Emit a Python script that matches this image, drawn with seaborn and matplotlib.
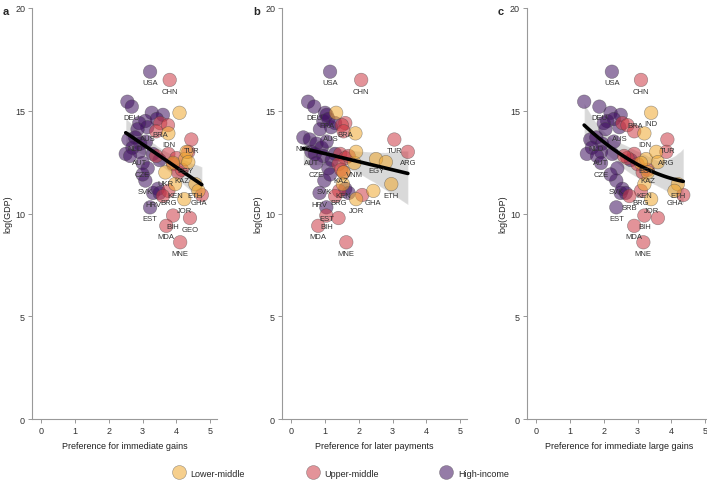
import numpy as np
import pandas as pd
import seaborn as sns
import matplotlib
matplotlib.use("Agg")
import matplotlib.pyplot as plt

# country data (approximate)
countries = ["USA", "GBR", "DEU", "JPN", "FRA", "ITA", "CAN", "AUS", "KOR", "ESP",
             "NLD", "CHE", "SWE", "BEL", "AUT", "NOR", "POL", "DNK", "CZE", "ISR",
             "PRT", "SVK", "HUN", "HRV", "LTU", "EST", "SVN", "CHL",
             "CHN", "BRA", "RUS", "MEX", "TUR", "ARG", "THA", "ZAF", "COL", "MYS",
             "PER", "KAZ", "BRG", "SRB", "BIH", "GEO", "MDA", "MNE", "AZE",
             "IND", "IDN", "EGY", "VNM", "PHL", "PAK", "UKR", "KEN", "ETH", "GHA", "JOR"]
income = (["High-income"] * 28 + ["Upper-middle"] * 19 + ["Lower-middle"] * 11)
log_gdp = [16.9, 15.44, 15.2, 14.9, 14.8, 14.5, 14.6, 14.2, 14.4, 14.1,
           13.7, 13.6, 13.4, 13.2, 13.0, 12.9, 13.5, 12.8, 12.46, 12.9,
           12.2, 11.6, 11.9, 11.0, 11.2, 10.3, 11.0, 12.6,
           16.5, 14.4, 14.3, 14.0, 13.6, 13.0, 12.9, 12.7, 12.4, 12.8,
           12.0, 12.13, 11.1, 10.85, 9.9, 9.78, 9.4, 8.6, 10.9,
           14.9, 13.9, 12.65, 12.46, 13.0, 12.5, 12.0, 11.43, 11.43, 11.1, 10.7]
pref_immediate = [3.22, 2.55, 2.68, 3.27, 3.6, 3.08, 3.42, 3.14, 2.9, 2.85,
                  2.78, 2.58, 2.93, 2.7, 2.9, 2.5, 3.1, 2.63, 3.0, 3.3,
                  3.15, 3.08, 3.0, 3.31, 3.45, 3.22, 3.5, 3.5,
                  3.8, 3.52, 3.75, 3.4, 4.44, 4.35, 3.76, 4.0, 3.9, 3.4,
                  4.05, 4.16, 3.76, 3.6, 3.9, 4.4, 3.7, 4.11, 4.75,
                  4.09, 3.76, 4.26, 3.9, 4.3, 4.35, 3.67, 3.96, 4.56, 4.65, 4.23]
pref_later = [1.15, 0.5, 0.68, 1.0, 1.05, 0.95, 1.1, 1.18, 1.3, 0.85,
              0.36, 0.55, 0.75, 0.9, 0.6, 0.7, 1.05, 0.95, 0.74, 1.3,
              1.1, 0.98, 1.15, 0.84, 1.6, 1.04, 1.7, 1.2,
              2.07, 1.6, 1.5, 1.55, 3.05, 3.45, 1.45, 1.6, 1.4, 1.7,
              1.55, 1.48, 1.42, 1.3, 1.04, 1.4, 0.8, 1.63, 2.1,
              1.33, 1.9, 2.51, 1.87, 1.92, 2.8, 1.55, 1.53, 2.96, 2.43, 1.92]
pref_large = [2.24, 1.42, 1.87, 2.2, 2.5, 2.1, 2.3, 2.46, 2.0, 2.05,
              1.78, 1.6, 1.95, 1.65, 1.92, 1.5, 2.3, 1.8, 1.92, 2.25,
              2.4, 2.37, 2.2, 2.5, 2.55, 2.37, 2.65, 2.8,
              3.1, 2.55, 2.7, 2.9, 3.88, 3.85, 2.9, 2.7, 3.0, 2.6,
              3.15, 3.3, 3.1, 2.76, 3.2, 3.6, 2.9, 3.17, 4.35,
              3.4, 3.2, 3.25, 3.1, 3.55, 3.6, 3.3, 3.2, 4.19, 4.09, 3.4]

# which countries get a text label in each panel
labels_a = ["USA", "CHN", "DEU", "BRA", "AUS", "IDN", "NLD", "TUR", "AUT", "CZE", "EGY",
            "UKR", "KAZ", "SVK", "KEN", "ETH", "HRV", "BRG", "GHA", "JOR", "EST",
            "BIH", "GEO", "MDA", "MNE"]
labels_b = ["USA", "CHN", "DEU", "FRA", "BRA", "AUS", "NLD", "AUT", "CZE", "TUR", "ARG",
            "EGY", "VNM", "KAZ", "SVK", "KEN", "ETH", "HRV", "BRG", "GHA", "JOR",
            "EST", "BIH", "MDA", "MNE"]
labels_c = ["USA", "CHN", "DEU", "BRA", "AUS", "IND", "IDN", "NLD", "AUT", "CZE", "TUR",
            "ARG", "EGY", "KAZ", "SVK", "KEN", "ETH", "BRG", "GHA", "SRB", "JOR",
            "EST", "BIH", "MDA", "MNE"]
# small nudges where labels would sit on top of each other
nudge_c = {"BRA": (9, -2)}

df = pd.DataFrame({"country": countries, "income": income, "logGDP": log_gdp,
                   "immediate": pref_immediate, "later": pref_later, "large": pref_large})

palette = {"Lower-middle": "#F0A830", "Upper-middle": "#CC3A45", "High-income": "#3F1060"}
hue_order = ["Lower-middle", "Upper-middle", "High-income"]

sns.set_theme(style="ticks")
plt.rcParams["font.family"] = ["Liberation Sans", "DejaVu Sans"]

fig = plt.figure(figsize=(7.07, 4.81), dpi=100)
panels = [("a", "immediate", "Preference for immediate gains", labels_a, {}, 1, 0.0453),
          ("b", "later", "Preference for later payments", labels_b, {}, 1, 0.3989),
          ("c", "large", "Preference for immediate large gains", labels_c, nudge_c, 2, 0.7454)]

for letter, col, xlabel, labs, nudge, order, left in panels:
    ax = fig.add_axes([left, 0.1268, 0.2617, 0.8545])
    sns.regplot(x=col, y="logGDP", data=df, order=order, scatter=False, ax=ax,
                color="black", seed=1, line_kws={"lw": 2.6, "zorder": 3})
    sns.scatterplot(x=col, y="logGDP", hue="income", hue_order=hue_order, palette=palette,
                    data=df, s=95, alpha=0.55, edgecolor="#444444", linewidth=0.4,
                    ax=ax, legend=False, zorder=2)
    for _, r in df[df.country.isin(labs)].iterrows():
        ax.annotate(r.country, (r[col], r.logGDP), xytext=nudge.get(r.country, (0, -8)),
                    textcoords="offset points", ha="center", va="center", fontsize=5.5,
                    color="#333333", zorder=4)
    ax.set_xlim(-0.27, 5.2)
    ax.set_ylim(0, 20)
    ax.set_xticks(range(6))
    ax.set_yticks([0, 5, 10, 15, 20])
    ax.set_xlabel(xlabel, fontsize=6.5, color="#222222")
    ax.set_ylabel("log(GDP)", fontsize=6.5, color="#222222", labelpad=2)
    ax.tick_params(labelsize=6.5, length=3, width=0.6, color="#888888", labelcolor="#333333",
                   pad=2)
    for s in ["left", "bottom"]:
        ax.spines[s].set_color("#999999")
        ax.spines[s].set_linewidth(0.8)
    sns.despine(ax=ax)
    fig.text(left - 0.041, 0.985, letter, fontsize=8, fontweight="bold", va="top")

handles = [plt.Line2D([], [], marker="o", linestyle="", markersize=10,
                      markerfacecolor=palette[h], alpha=0.55, markeredgecolor="#444444",
                      markeredgewidth=0.4) for h in hue_order]
fig.legend(handles, hue_order, loc="lower center", bbox_to_anchor=(0.48, -0.012), ncol=3,
           frameon=False, fontsize=6.5, columnspacing=6.5, handletextpad=0.3)

fig.savefig("out.png", dpi=100)
